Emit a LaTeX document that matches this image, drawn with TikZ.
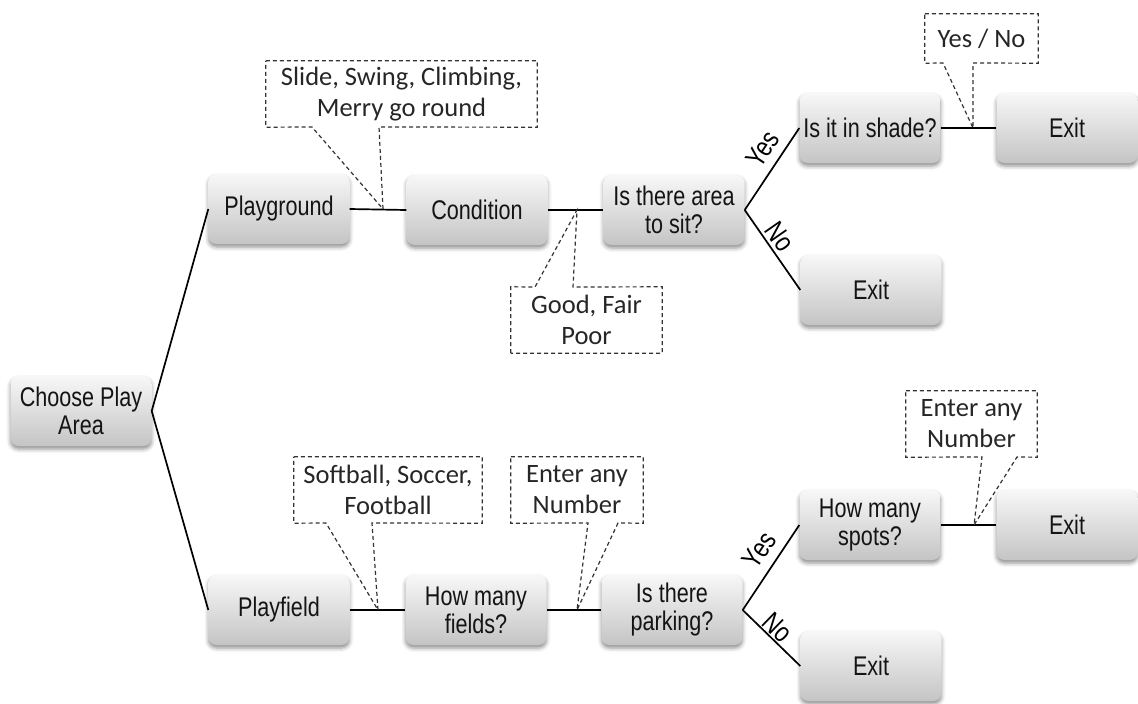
\documentclass[tikz,border=0pt]{standalone}
\usepackage{fontspec}
\usetikzlibrary{shadows.blur}
\newfontfamily\boxfont{Liberation Sans}[FakeStretch=0.8]
\newfontfamily\notefont{Carlito}

\tikzset{
  stepbox/.style={
    rounded corners=8pt, minimum width=141pt, minimum height=70pt,
    inner sep=2pt, align=center, text=black!92,
    top color=white!97!black, bottom color=black!23,
    font=\boxfont\fontsize{27}{28}\selectfont,
    blur shadow={shadow xshift=0pt, shadow yshift=-3pt,
                 shadow blur radius=4pt, shadow opacity=45}},
  notebox/.style={inner sep=0pt, align=center, text=black!85,
    font=\notefont\fontsize{26.5}{31}\selectfont},
  link/.style={draw=black, line width=1.7pt},
  noteline/.style={draw=black!80, line width=1.2pt, dash pattern=on 4pt off 3pt},
  branch/.style={font=\boxfont\fontsize{28}{28}\selectfont, sloped, inner sep=1pt}
}

\begin{document}
\begin{tikzpicture}[x=1pt, y=-1pt]
\useasboundingbox (0,0) rectangle (1138,704);

% decision steps
\node[stepbox] (choose) at (81,411)   {Choose Play\\Area};
\node[stepbox] (pg)     at (279,209)  {Playground};
\node[stepbox] (cond)   at (477,210)  {Condition};
\node[stepbox] (sit)    at (674,210)  {Is there area\\to sit?};
\node[stepbox] (shade)  at (870,128)  {Is it in shade?};
\node[stepbox] (exitA)  at (1067,128) {Exit};
\node[stepbox] (exitB)  at (871,290)  {Exit};
\node[stepbox] (pf)     at (279,610)  {Playfield};
\node[stepbox] (fields) at (476,610)  {How many\\fields?};
\node[stepbox] (park)   at (672,610)  {Is there\\parking?};
\node[stepbox] (spots)  at (870,525)  {How many\\spots?};
\node[stepbox] (exitC)  at (1067,525) {Exit};
\node[stepbox] (exitD)  at (871,666)  {Exit};

% connectors
\draw[link] (choose.east) -- (pg.west);
\draw[link] (choose.east) -- (pf.west);
\draw[link] (pg.east) -- (cond.west);
\draw[link] (cond.east) -- (sit.west);
\draw[link] (sit.east) -- node[branch, above=7pt, pos=0.62] {Yes} (shade.west);
\draw[link] (sit.east) -- node[branch, above=2pt, pos=0.43] {No} (exitB.west);
\draw[link] (shade.east) -- (exitA.west);
\draw[link] (pf.east) -- (fields.west);
\draw[link] (fields.east) -- (park.west);
\draw[link] (park.east) -- node[branch, above=8pt, pos=0.58] {Yes} (spots.west);
\draw[link] (park.east) -- node[branch, above=0pt, pos=0.46] {No} (exitD.west);
\draw[link] (spots.east) -- (exitC.west);

% points where the notes attach
\coordinate (t1) at (383,209);
\coordinate (t2) at (577,210);
\coordinate (t3) at (973,128);
\coordinate (t4) at (378,610);
\coordinate (t5) at (577,610);
\coordinate (t6) at (974,525);

% notes with their pointers
\node[notebox, minimum width=271pt, minimum height=66pt] (n1) at (401.5,94)
  {Slide, Swing, Climbing,\\Merry go round};
\draw[noteline] (n1.north west) -- (n1.north east) -- (n1.south east)
  -- (379,127) -- (t1) -- (312,127) -- (n1.south west) -- cycle;

\node[notebox, minimum width=151pt, minimum height=66pt] (n2) at (586.5,320)
  {Good, Fair\\Poor};
\draw[noteline] (n2.south west) -- (n2.north west) -- (535,287) -- (t2)
  -- (573,287) -- (n2.north east) -- (n2.south east) -- cycle;

\node[notebox, minimum width=113pt, minimum height=49pt] (n3) at (981.5,38.5)
  {Yes / No};
\draw[noteline] (n3.north west) -- (n3.north east) -- (n3.south east)
  -- (973,63) -- (t3) -- (943,63) -- (n3.south west) -- cycle;

\node[notebox, minimum width=188pt, minimum height=66pt] (n4) at (388,490)
  {Softball, Soccer,\\Football};
\draw[noteline] (n4.north west) -- (n4.north east) -- (n4.south east)
  -- (372,523) -- (t4) -- (326,523) -- (n4.south west) -- cycle;

\node[notebox, minimum width=132pt, minimum height=66pt] (n5) at (577,490)
  {Enter any\\Number};
\draw[noteline] (n5.north west) -- (n5.north east) -- (n5.south east)
  -- (618,523) -- (t5) -- (588,523) -- (n5.south west) -- cycle;

\node[notebox, minimum width=131pt, minimum height=66pt] (n6) at (971.5,424)
  {Enter any\\Number};
\draw[noteline] (n6.north west) -- (n6.north east) -- (n6.south east)
  -- (1017,457) -- (t6) -- (982,457) -- (n6.south west) -- cycle;
\end{tikzpicture}
\end{document}
